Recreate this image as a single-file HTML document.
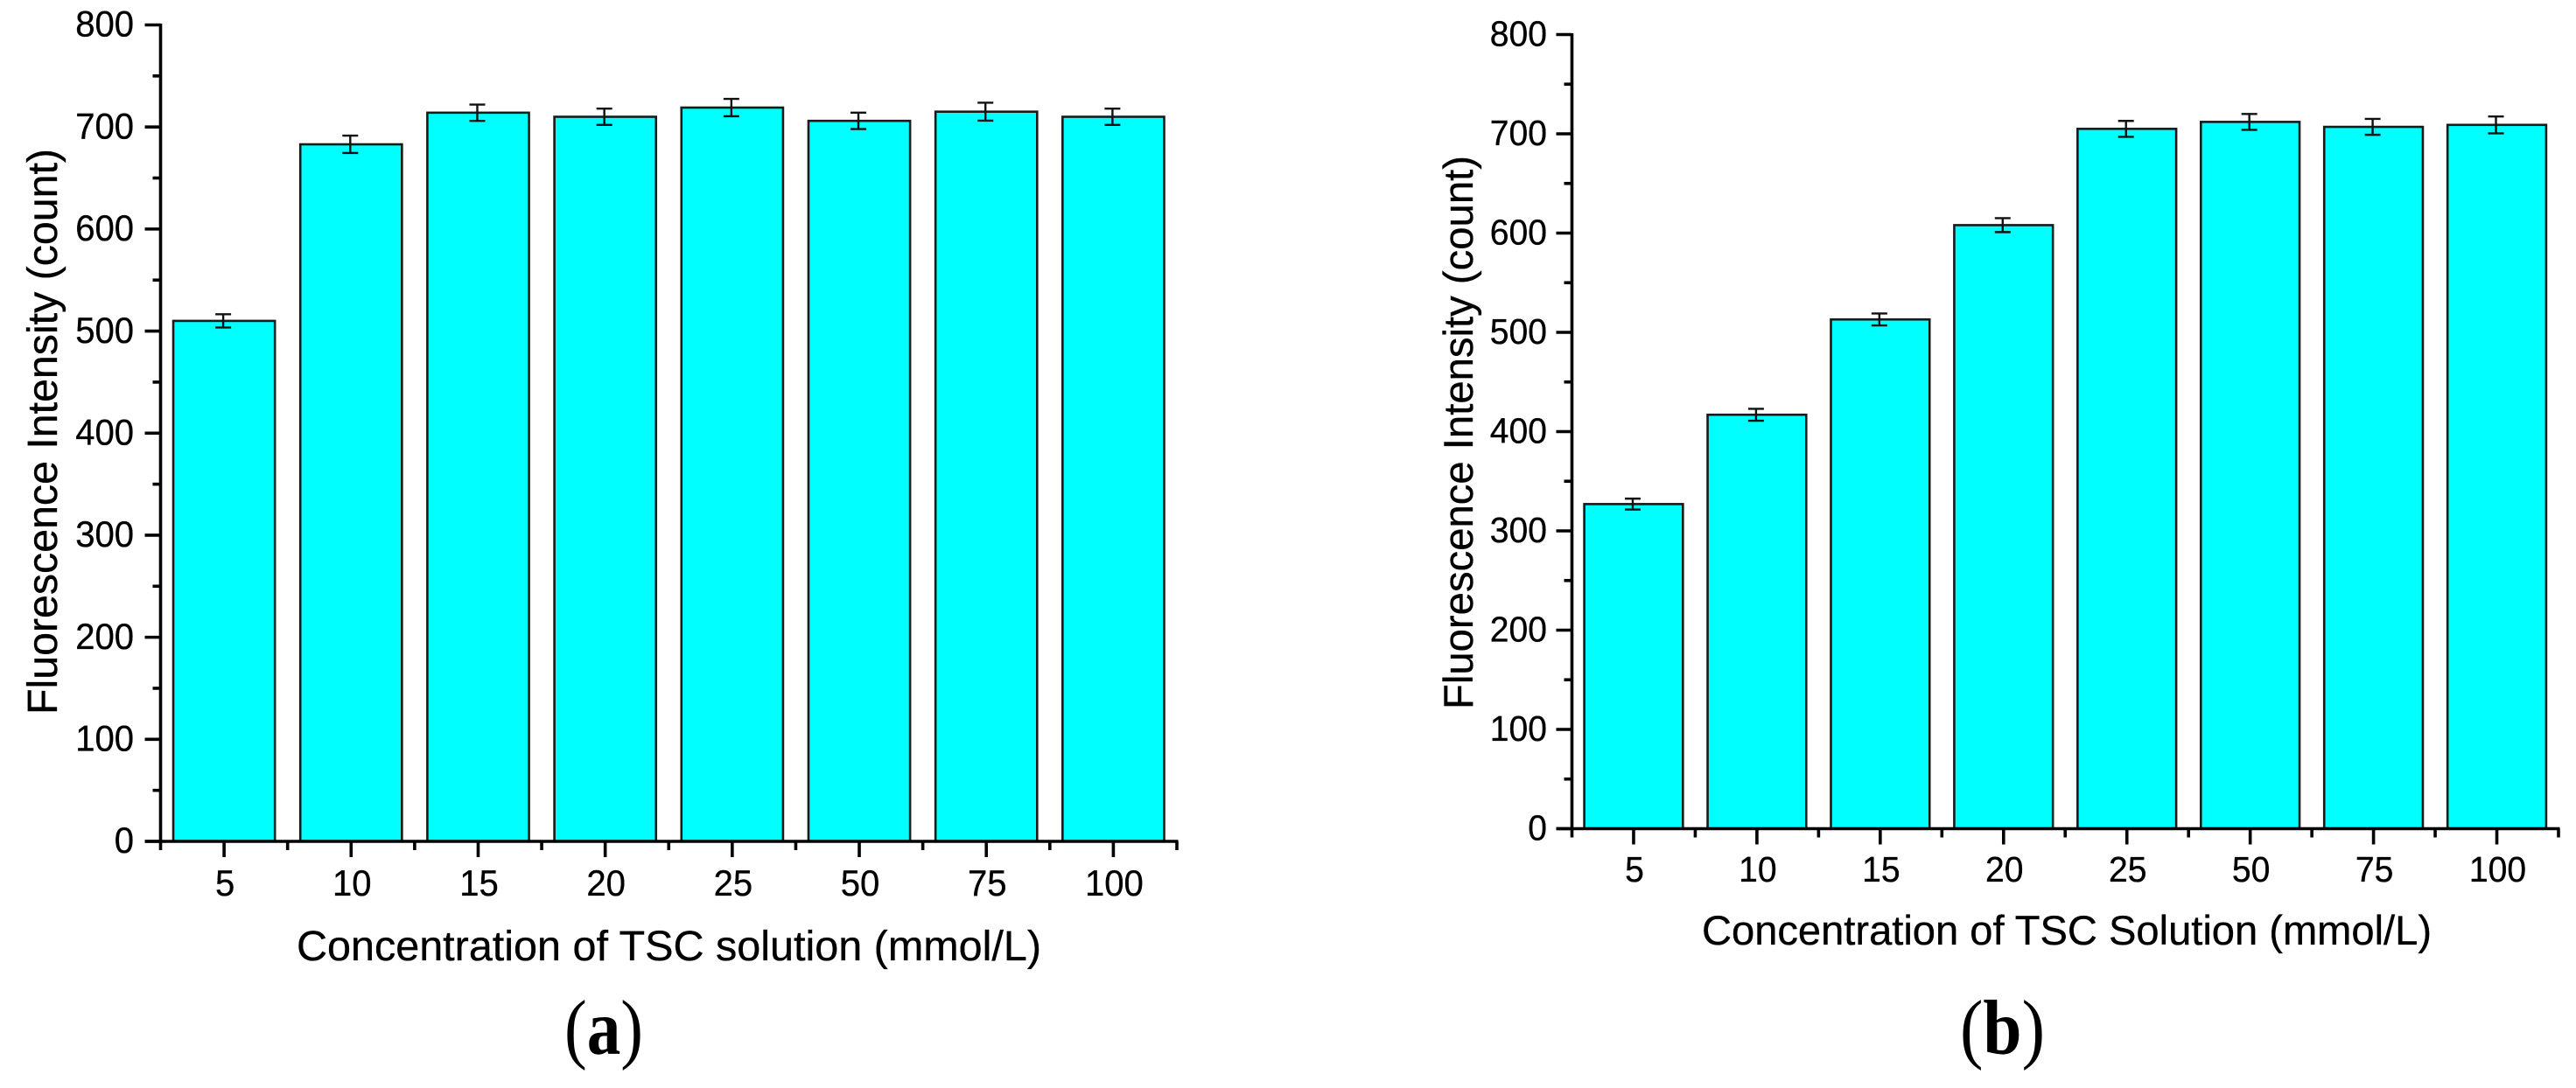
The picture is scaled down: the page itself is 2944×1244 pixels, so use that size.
<!DOCTYPE html>
<html lang="en">
<head>
<meta charset="utf-8">
<title>Fluorescence intensity vs. TSC concentration</title>
<style>
html,body{margin:0;padding:0;background:#fff;width:2944px;height:1244px;overflow:hidden}
svg{display:block}
text{font-family:"Liberation Sans",Arial,sans-serif;fill:#000;stroke:#000;stroke-width:.35px}
text.caption{stroke:none}
.caption,.caption tspan{font-family:"Liberation Serif","Times New Roman",serif}
</style>
</head>
<body>
<svg id="figure" xmlns="http://www.w3.org/2000/svg" width="2944" height="1244" viewBox="0 0 2944 1244">
  <rect x="0" y="0" width="2944" height="1244" fill="#fff"/>
  <g id="panel-a"></g>
  <g id="panel-b"></g>

  <text transform="translate(65,817) rotate(-90)" font-size="48" textLength="647" lengthAdjust="spacingAndGlyphs">Fluorescence Intensity (count)</text>
  <text x="339" y="1098" font-size="48" textLength="851" lengthAdjust="spacingAndGlyphs">Concentration of TSC solution (mmol/L)</text>
  <text class="caption" x="645" y="1205" font-size="89" textLength="90" lengthAdjust="spacingAndGlyphs">(<tspan font-weight="bold">a</tspan>)</text>

  <text transform="translate(1683,811) rotate(-90)" font-size="47" textLength="633" lengthAdjust="spacingAndGlyphs">Fluorescence Intensity (count)</text>
  <text x="1945" y="1080" font-size="47" textLength="834" lengthAdjust="spacingAndGlyphs">Concentration of TSC Solution (mmol/L)</text>
  <text class="caption" x="2240" y="1205" font-size="89" textLength="97" lengthAdjust="spacingAndGlyphs">(<tspan font-weight="bold">b</tspan>)</text>
</svg>

<script>
var categories = ['5', '10', '15', '20', '25', '50', '75', '100'];
var valuesA = [510, 683, 714, 710, 719, 706, 715, 710];
var errorsA = [6.5, 8.5, 8, 8, 8.5, 8, 8.8, 8];
var valuesB = [327, 417, 513, 608, 705, 712, 707, 709];
var errorsB = [5.5, 6, 6, 7, 8, 8, 8, 8.5];
var yMajorTicks = [0, 100, 200, 300, 400, 500, 600, 700, 800];
var yMinorTicks = [50, 150, 250, 350, 450, 550, 650, 750];

var SVG_NS = 'http://www.w3.org/2000/svg';

function make(tag, attrs, parent) {
  var el = document.createElementNS(SVG_NS, tag);
  for (var k in attrs) { el.setAttribute(k, attrs[k]); }
  parent.appendChild(el);
  return el;
}

function labelWidth(str, fontSize) {
  return str.length * 0.53 * fontSize;
}

function drawPanel(parent, geom, values, errors) {
  var count = categories.length;
  var band = (geom.right - geom.left) / count;
  var domainMax = yMajorTicks[yMajorTicks.length - 1];
  function xScale(i) { return geom.left + band * (i + 0.5); }
  function yScale(v) { return geom.zero - (geom.zero - geom.top) * v / domainMax; }

  values.forEach(function (v, i) {
    var w = band * 0.8;
    var bar = make('rect', {
      x: xScale(i) - w / 2, y: yScale(v), width: w, height: geom.zero - yScale(v),
      fill: '#00ffff', stroke: '#1a1a1a', 'stroke-width': 2.6
    }, parent);
    
    
  });

  errors.forEach(function (e, i) {
    var cx = xScale(i) - 1;
    var hi = yScale(values[i] + e);
    var lo = yScale(values[i] - e);
    var g = make('g', { stroke: '#111', 'stroke-width': 2.4, fill: 'none' }, parent);
    
    
    make('line', { x1: cx, x2: cx, y1: hi, y2: lo }, g);
    make('line', { x1: cx - 9, x2: cx + 9, y1: hi, y2: hi }, g);
    make('line', { x1: cx - 9, x2: cx + 9, y1: lo, y2: lo }, g);
  });

  var yAxis = make('g', { stroke: '#000', 'stroke-width': 3.6 }, parent);
  
  
  make('line', { x1: geom.left, x2: geom.left, y1: geom.top - 1.5, y2: geom.zero + 2 }, yAxis);

  yMajorTicks.forEach(function (t) {
    var tick = make('line', { x1: geom.left - 18, x2: geom.left, y1: yScale(t), y2: yScale(t) }, yAxis);
    
    
    var str = String(t);
    var label = make('text', {
      x: geom.yLabelRight, y: yScale(t) + geom.fontSize * 0.35 - 1.5,
      'font-size': geom.fontSize, 'text-anchor': 'end',
      textLength: labelWidth(str, geom.fontSize), lengthAdjust: 'spacingAndGlyphs'
    }, parent);
    
    
    label.textContent = str;
  });

  yMinorTicks.forEach(function (t) {
    var tick = make('line', { x1: geom.left - 9, x2: geom.left, y1: yScale(t), y2: yScale(t) }, yAxis);
    
    
  });

  var xAxis = make('g', { stroke: '#000', 'stroke-width': 3.6 }, parent);
  
  
  make('line', { x1: geom.left - 18, x2: geom.right + 1.5, y1: geom.zero, y2: geom.zero }, xAxis);

  categories.forEach(function (c, i) {
    var tick = make('line', { x1: xScale(i), x2: xScale(i), y1: geom.zero, y2: geom.zero + 18 }, xAxis);
    
    
    var label = make('text', {
      x: xScale(i) + 1, y: geom.xLabelBase,
      'font-size': geom.fontSize, 'text-anchor': 'middle',
      textLength: labelWidth(c, geom.fontSize), lengthAdjust: 'spacingAndGlyphs'
    }, parent);
    
    
    label.textContent = c;
  });

  for (var j = 0; j <= count; j++) {
    var edge = geom.left + band * j;
    var minor = make('line', { x1: edge, x2: edge, y1: geom.zero, y2: geom.zero + 10 }, xAxis);
    
    
  }
}

drawPanel(document.getElementById('panel-a'),
  { left: 183.5, right: 1345, top: 28.5, zero: 962, yLabelRight: 153, xLabelBase: 1024, fontSize: 42 },
  valuesA, errorsA);

drawPanel(document.getElementById('panel-b'),
  { left: 1796.5, right: 2924, top: 39.5, zero: 947.5, yLabelRight: 1768, xLabelBase: 1008, fontSize: 41 },
  valuesB, errorsB);
</script>
</body>
</html>
